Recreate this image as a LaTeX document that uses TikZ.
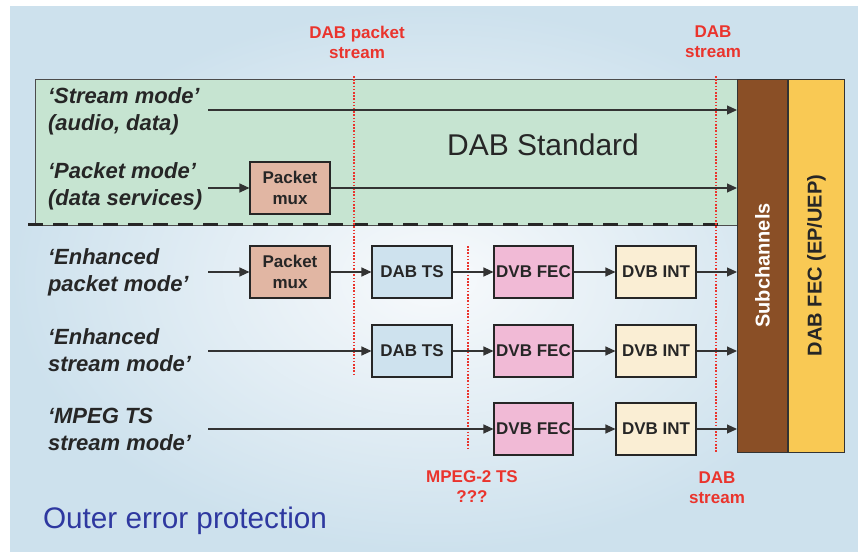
\documentclass[tikz,border=0pt]{standalone}
\usepackage{fontspec}
\setmainfont{Liberation Sans}
\usetikzlibrary{arrows.meta, positioning}
\definecolor{bgblue}{RGB}{205, 225, 237}
\definecolor{bglight}{RGB}{248, 250, 252}
\definecolor{stdgreen}{RGB}{198, 228, 209}
\definecolor{subbrown}{RGB}{138, 79, 38}
\definecolor{fecyellow}{RGB}{249, 201, 84}
\definecolor{muxrose}{RGB}{225, 182, 163}
\definecolor{tsblue}{RGB}{206, 226, 238}
\definecolor{fecpink}{RGB}{241, 186, 214}
\definecolor{intcream}{RGB}{250, 238, 212}
\definecolor{notered}{RGB}{234, 52, 45}
\definecolor{titleblue}{RGB}{46, 56, 160}

\begin{document}
\begin{tikzpicture}[x=1pt, y=-1pt,
  blk/.style={draw=black!85, line width=1.1pt, minimum width=80pt, minimum height=52pt,
    inner sep=0pt, align=center, text=black!85, font=\fontsize{17}{21}\selectfont\bfseries},
  mode/.style={anchor=west, align=left, text=black!85, font=\fontsize{22}{27}\selectfont\bfseries\itshape},
  note/.style={align=center, text=notered, font=\fontsize{17}{20}\selectfont\bfseries},
  arr/.style={draw=black!80, line width=1.1pt, -{Triangle[length=10pt, width=9pt]}},
  redline/.style={draw=notered, line width=1.6pt, dash pattern=on 1.6pt off 1.6pt}]
  \useasboundingbox (0, 0) rectangle (858, 551);

  % Background
  \shade[inner color=bglight, outer color=bgblue] (10, 7) rectangle (858, 551);

  % DAB standard area
  \filldraw[fill=stdgreen, draw=black!70, line width=0.8pt] (35, 79) rectangle (738, 225);
  \node[font=\fontsize{30}{36}\selectfont, text=black!85] (std) at (543, 145) {DAB Standard};
  \draw[black!85, line width=3pt, dash pattern=on 15pt off 10pt] (28, 224) -- (723, 224);

  % Subchannels and DAB FEC
  \node[draw=black!80, fill=subbrown, line width=1pt, minimum width=50pt, minimum height=373pt,
    inner sep=0pt] (sub) at (762.5, 265.5) {};
  \node[rotate=90, text=white, font=\fontsize{20}{24}\selectfont\bfseries] (subtext) at (sub.center) {Subchannels};
  \node[draw=black!80, fill=fecyellow, line width=1pt, minimum width=56pt, minimum height=373pt,
    inner sep=0pt, anchor=west] (dabfec) at (sub.east) {};
  \node[rotate=90, text=black!85, font=\fontsize{20}{24}\selectfont\bfseries] (fectext) at (dabfec.center) {DAB FEC (EP/UEP)};

  % Modes
  \node[mode] (m1) at (44.5, 111) {‘Stream mode’\\(audio, data)};
  \node[mode] (m2) at (44.5, 186) {‘Packet mode’\\(data services)};
  \node[mode] (m3) at (44.5, 272) {‘Enhanced\\packet mode’};
  \node[mode] (m4) at (44.5, 350) {‘Enhanced\\stream mode’};
  \node[mode] (m5) at (44.5, 429) {‘MPEG TS\\stream mode’};

  % Blocks
  \node[blk, fill=muxrose] (mux1) at (290, 188) {Packet\\mux};
  \node[blk, fill=muxrose] (mux2) at (290, 272) {Packet\\mux};
  \node[blk, fill=tsblue] (ts1) at (412, 272) {DAB TS};
  \node[blk, fill=tsblue] (ts2) at (412, 351) {DAB TS};
  \node[blk, fill=fecpink, minimum width=79pt] (fec1) at (533.5, 272) {DVB FEC};
  \node[blk, fill=fecpink, minimum width=79pt] (fec2) at (533.5, 351) {DVB FEC};
  \node[blk, fill=fecpink, minimum width=79pt] (fec3) at (533.5, 429) {DVB FEC};
  \node[blk, fill=intcream] (int1) at (656, 272) {DVB INT};
  \node[blk, fill=intcream] (int2) at (656, 351) {DVB INT};
  \node[blk, fill=intcream] (int3) at (656, 429) {DVB INT};

  % Red boundaries
  \draw[redline] (354, 76) -- (354, 374);
  \draw[redline] (716, 76) -- (716, 452);
  \draw[redline] (468, 246) -- (468, 450);
  \node[note] (n1) at (357, 42) {DAB packet\\stream};
  \node[note] (n2) at (713, 42) {DAB\\stream};
  \node[note] (n3) at (472, 487) {MPEG-2 TS\\???};
  \node[note] (n4) at (717, 488) {DAB\\stream};

  % Flows
  \coordinate (s1) at (208, 110);
  \coordinate (s2) at (208, 188);
  \coordinate (s3) at (208, 272);
  \coordinate (s4) at (208, 351);
  \coordinate (s5) at (208, 429);
  \draw[arr] (s1) -- (s1 -| sub.west);
  \draw[arr] (s2) -- (mux1);
  \draw[arr] (mux1) -- (mux1 -| sub.west);
  \draw[arr] (s3) -- (mux2);
  \draw[arr] (mux2) -- (ts1);
  \draw[arr] (ts1) -- (fec1);
  \draw[arr] (fec1) -- (int1);
  \draw[arr] (int1) -- (int1 -| sub.west);
  \draw[arr] (s4) -- (ts2);
  \draw[arr] (ts2) -- (fec2);
  \draw[arr] (fec2) -- (int2);
  \draw[arr] (int2) -- (int2 -| sub.west);
  \draw[arr] (s5) -- (fec3);
  \draw[arr] (fec3) -- (int3);
  \draw[arr] (int3) -- (int3 -| sub.west);

  % Title
  \node[anchor=west, text=titleblue, font=\fontsize{29.7}{34}\selectfont] (title) at (39.5, 521) {Outer error protection};
\end{tikzpicture}
\end{document}
